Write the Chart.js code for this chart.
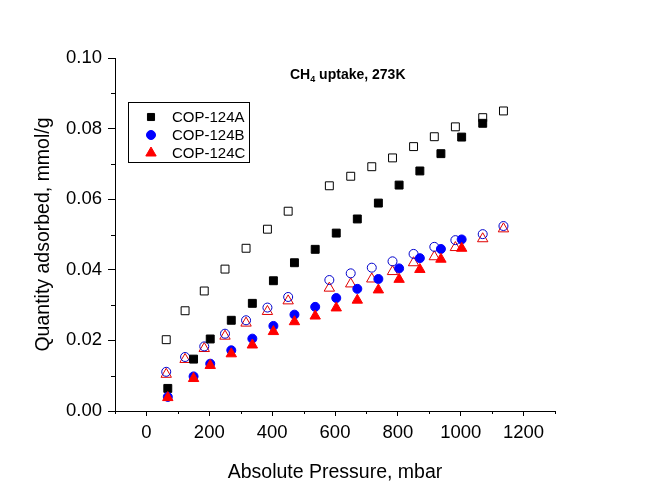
<!DOCTYPE html>
<html>
<head>
<meta charset="utf-8">
<script src="https://cdn.jsdelivr.net/npm/chart.js@4.4.1/dist/chart.umd.min.js"></script>
<style>
  html, body { margin: 0; padding: 0; background: #fff; }
</style>
</head>
<body>
<canvas id="chart" width="645" height="494"></canvas>
<script>
// CH4 uptake at 273K for COP-124A/B/C (filled = adsorption, open = desorption)

const FONT = "'Liberation Sans', Arial, sans-serif";

const SERIES_NAMES = ["COP-124A", "COP-124B", "COP-124C"];

// adsorption branch (filled markers)
const P_ADS = [68, 150, 203, 270, 337, 404, 471, 537, 604, 671, 738, 804, 870, 937, 1003, 1070];
const A_ADS = [0.0064, 0.0147, 0.0204, 0.0257, 0.0305, 0.0369, 0.0420, 0.0458, 0.0504, 0.0544, 0.0589, 0.0640, 0.0680, 0.0729, 0.0776, 0.0815];
const B_ADS = [0.0040, 0.0098, 0.0134, 0.0172, 0.0205, 0.0241, 0.0273, 0.0295, 0.0320, 0.0346, 0.0374, 0.0404, 0.0433, 0.0459, 0.0486];
const C_ADS = [0.0038, 0.0092, 0.0129, 0.0162, 0.0187, 0.0225, 0.0253, 0.0269, 0.0292, 0.0314, 0.0343, 0.0373, 0.0401, 0.0430, 0.0461];

// desorption branch (open markers)
const P_DES = [63, 123, 184, 250, 317, 385, 451, 582, 650, 717, 783, 850, 916, 983, 1070, 1136];
const A_DES = [0.0202, 0.0284, 0.0340, 0.0402, 0.0461, 0.0515, 0.0566, 0.0638, 0.0665, 0.0692, 0.0717, 0.0749, 0.0777, 0.0805, 0.0831, 0.0850];
const B_DES = [0.0111, 0.0153, 0.0183, 0.0219, 0.0257, 0.0293, 0.0323, 0.0371, 0.0390, 0.0406, 0.0424, 0.0445, 0.0465, 0.0484, 0.0501, 0.0524];
const C_DES = [0.0104, 0.0146, 0.0177, 0.0212, 0.0249, 0.0282, 0.0312, 0.0348, 0.0360, 0.0374, 0.0395, 0.0420, 0.0437, 0.0463, 0.0488, 0.0516];

const X_TICKS = [0, 200, 400, 600, 800, 1000, 1200];
const X_MINOR = [-100, 100, 300, 500, 700, 900, 1100, 1300];
const Y_TICKS = [0, 0.02, 0.04, 0.06, 0.08, 0.10];
const Y_MINOR = [0.01, 0.03, 0.05, 0.07, 0.09];

function pts(xs, ys) {
  return ys.map((v, i) => ({ x: xs[i], y: v }));
}

// minor tick marks, shorter than the major ones
const minorTicks = {
  id: "minorTicks",
  afterDraw(chart) {
    const { ctx, scales: { x, y } } = chart;
    ctx.save();
    ctx.strokeStyle = "#000";
    ctx.lineWidth = 1;
    ctx.beginPath();
    X_MINOR.forEach(v => {
      const px = Math.round(x.getPixelForValue(v)) + 0.5;
      ctx.moveTo(px, x.top);
      ctx.lineTo(px, x.top + 3);
    });
    Y_MINOR.forEach(v => {
      const py = Math.round(y.getPixelForValue(v)) + 0.5;
      ctx.moveTo(y.right, py);
      ctx.lineTo(y.right - 4, py);
    });
    ctx.stroke();
    ctx.restore();
  }
};

// "CH4 uptake, 273K" with a subscript 4
const plotTitle = {
  id: "plotTitle",
  afterDraw(chart) {
    const ctx = chart.ctx;
    ctx.save();
    ctx.fillStyle = "#000";
    ctx.textBaseline = "alphabetic";
    let x = 290;
    const base = 79;
    ctx.font = "bold 14px " + FONT;
    ctx.fillText("CH", x, base);
    x += ctx.measureText("CH").width;
    ctx.font = "bold 9px " + FONT;
    ctx.fillText("4", x, base + 3);
    x += ctx.measureText("4").width;
    ctx.font = "bold 14px " + FONT;
    ctx.fillText(" uptake, 273K", x, base);
    ctx.restore();
  }
};

// boxed legend inside the plot, only the filled (adsorption) sets, A first
const boxLegend = {
  id: "boxLegend",
  afterDraw(chart) {
    const ctx = chart.ctx;
    const items = chart.data.datasets
      .filter(d => d.inLegend)
      .sort((a, b) => SERIES_NAMES.indexOf(a.label) - SERIES_NAMES.indexOf(b.label));
    ctx.save();
    ctx.strokeStyle = "#000";
    ctx.lineWidth = 1;
    ctx.strokeRect(128.5, 102.5, 121, 60);
    ctx.font = "15px " + FONT;
    ctx.textBaseline = "middle";
    items.forEach((d, i) => {
      const cy = 117 + i * 18;
      ctx.fillStyle = d.backgroundColor;
      ctx.strokeStyle = d.borderColor;
      Chart.helpers.drawPoint(ctx, {
        pointStyle: d.pointStyle,
        radius: d.legendRadius,
        rotation: 0,
        borderWidth: 1
      }, 151, cy);
      ctx.fillStyle = "#000";
      ctx.fillText(d.label, 172, cy + 1);
    });
    ctx.restore();
  }
};

new Chart(document.getElementById("chart").getContext("2d"), {
  type: "scatter",
  data: {
    datasets: [
      {
        label: SERIES_NAMES[2], inLegend: true, legendRadius: 6,
        data: pts(P_ADS, C_ADS), pointStyle: "triangle", pointRadius: 6,
        backgroundColor: "#FF0000", borderColor: "#FF0000", borderWidth: 1, order: 0
      },
      {
        label: SERIES_NAMES[1], inLegend: true, legendRadius: 4.5,
        data: pts(P_ADS, B_ADS), pointStyle: "circle", pointRadius: 4.5,
        backgroundColor: "#0000FF", borderColor: "#0000FF", borderWidth: 1, order: 1
      },
      {
        label: SERIES_NAMES[0], inLegend: true, legendRadius: 5,
        data: pts(P_ADS, A_ADS), pointStyle: "rect", pointRadius: 5.6,
        backgroundColor: "#000000", borderColor: "#000000", borderWidth: 1, order: 2
      },
      {
        label: SERIES_NAMES[0] + " des",
        data: pts(P_DES, A_DES), pointStyle: "rect", pointRadius: 5.6,
        backgroundColor: "rgba(255,255,255,0)", borderColor: "#000000", borderWidth: 1, order: 3
      },
      {
        label: SERIES_NAMES[1] + " des",
        data: pts(P_DES, B_DES), pointStyle: "circle", pointRadius: 4.5,
        backgroundColor: "rgba(255,255,255,0)", borderColor: "#0000CC", borderWidth: 1, order: 4
      },
      {
        label: SERIES_NAMES[2] + " des",
        data: pts(P_DES, C_DES), pointStyle: "triangle", pointRadius: 6,
        backgroundColor: "rgba(255,255,255,0)", borderColor: "#E00000", borderWidth: 1, order: 5
      }
    ]
  },
  options: {
    responsive: false,
    devicePixelRatio: 1,
    animation: false,
    layout: { padding: { left: 0, right: 90, top: 58, bottom: 0 } },
    plugins: {
      legend: { display: false },
      tooltip: { enabled: false }
    },
    scales: {
      x: {
        type: "linear",
        min: -100,
        max: 1300,
        afterBuildTicks: s => { s.ticks = X_TICKS.map(v => ({ value: v })); },
        afterFit: s => { s.height = 83; },
        border: { display: true, color: "#000", width: 1 },
        grid: { drawOnChartArea: false, drawTicks: true, tickLength: 5, tickColor: "#000", tickWidth: 1 },
        ticks: {
          color: "#000", font: { family: FONT, size: 18.5 }, padding: 6,
          maxRotation: 0, autoSkip: false, callback: v => String(v)
        },
        title: {
          display: true, text: "Absolute Pressure, mbar", color: "#000",
          font: { family: FONT, size: 19.5 }, padding: { top: 0, bottom: 10 }
        }
      },
      y: {
        type: "linear",
        min: 0,
        max: 0.1,
        afterBuildTicks: s => { s.ticks = Y_TICKS.map(v => ({ value: v })); },
        afterFit: s => { s.width = 115; },
        border: { display: true, color: "#000", width: 1 },
        grid: { drawOnChartArea: false, drawTicks: true, tickLength: 7, tickColor: "#000", tickWidth: 1 },
        ticks: { color: "#000", font: { family: FONT, size: 18.5 }, padding: 6, callback: v => v.toFixed(2) },
        title: {
          display: true, text: "Quantity adsorbed, mmol/g", color: "#000",
          font: { family: FONT, size: 19.5 }, padding: { top: 32, bottom: 0 }
        }
      }
    }
  },
  plugins: [minorTicks, plotTitle, boxLegend]
});
</script>
</body>
</html>
